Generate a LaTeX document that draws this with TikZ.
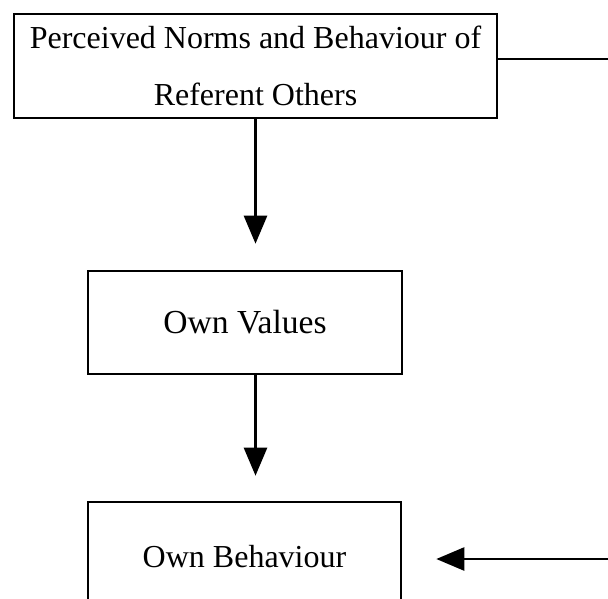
\documentclass[tikz,border=0pt]{standalone}
\usepackage{fontspec}
\setmainfont{Liberation Serif}
\usetikzlibrary{arrows.meta}
\tikzset{
  box/.style={draw, line width=1.3pt, inner sep=0pt, align=center,
    font=\fontsize{16}{28.5}\selectfont},
  arr/.style={line width=1.3pt, -{Triangle[length=14pt,width=11.5pt]}}
}
\begin{document}
\begin{tikzpicture}[x=0.5pt,y=-0.5pt]
\clip (0,0) rectangle (608,598);
\fill[white] (0,0) rectangle (608,598);
\node[box, minimum width=241.5pt, minimum height=52pt] (top) at (255.5,66)
  {\raisebox{2.2pt}{\parbox{241pt}{\centering Perceived Norms and Behaviour of\\Referent Others}}};
\node[box, minimum width=157pt, minimum height=51.5pt] (vals) at (245,322.5) {\fontsize{16.8}{20}\selectfont Own Values};
\node[box, minimum width=156.5pt, minimum height=55pt] (beh) at (244.5,557) {Own Behaviour};
\draw[arr, shorten >=13pt] (top.south) -- (top.south |- vals.north);
\draw[arr, shorten >=12.5pt] (vals.south -| top.south) -- (top.south |- beh.north);
\draw[arr, shorten >=17pt] ([yshift=3.5pt]top.east) -- ++(62pt,0) |- ([yshift=-1pt]beh.east);
\end{tikzpicture}
\end{document}
